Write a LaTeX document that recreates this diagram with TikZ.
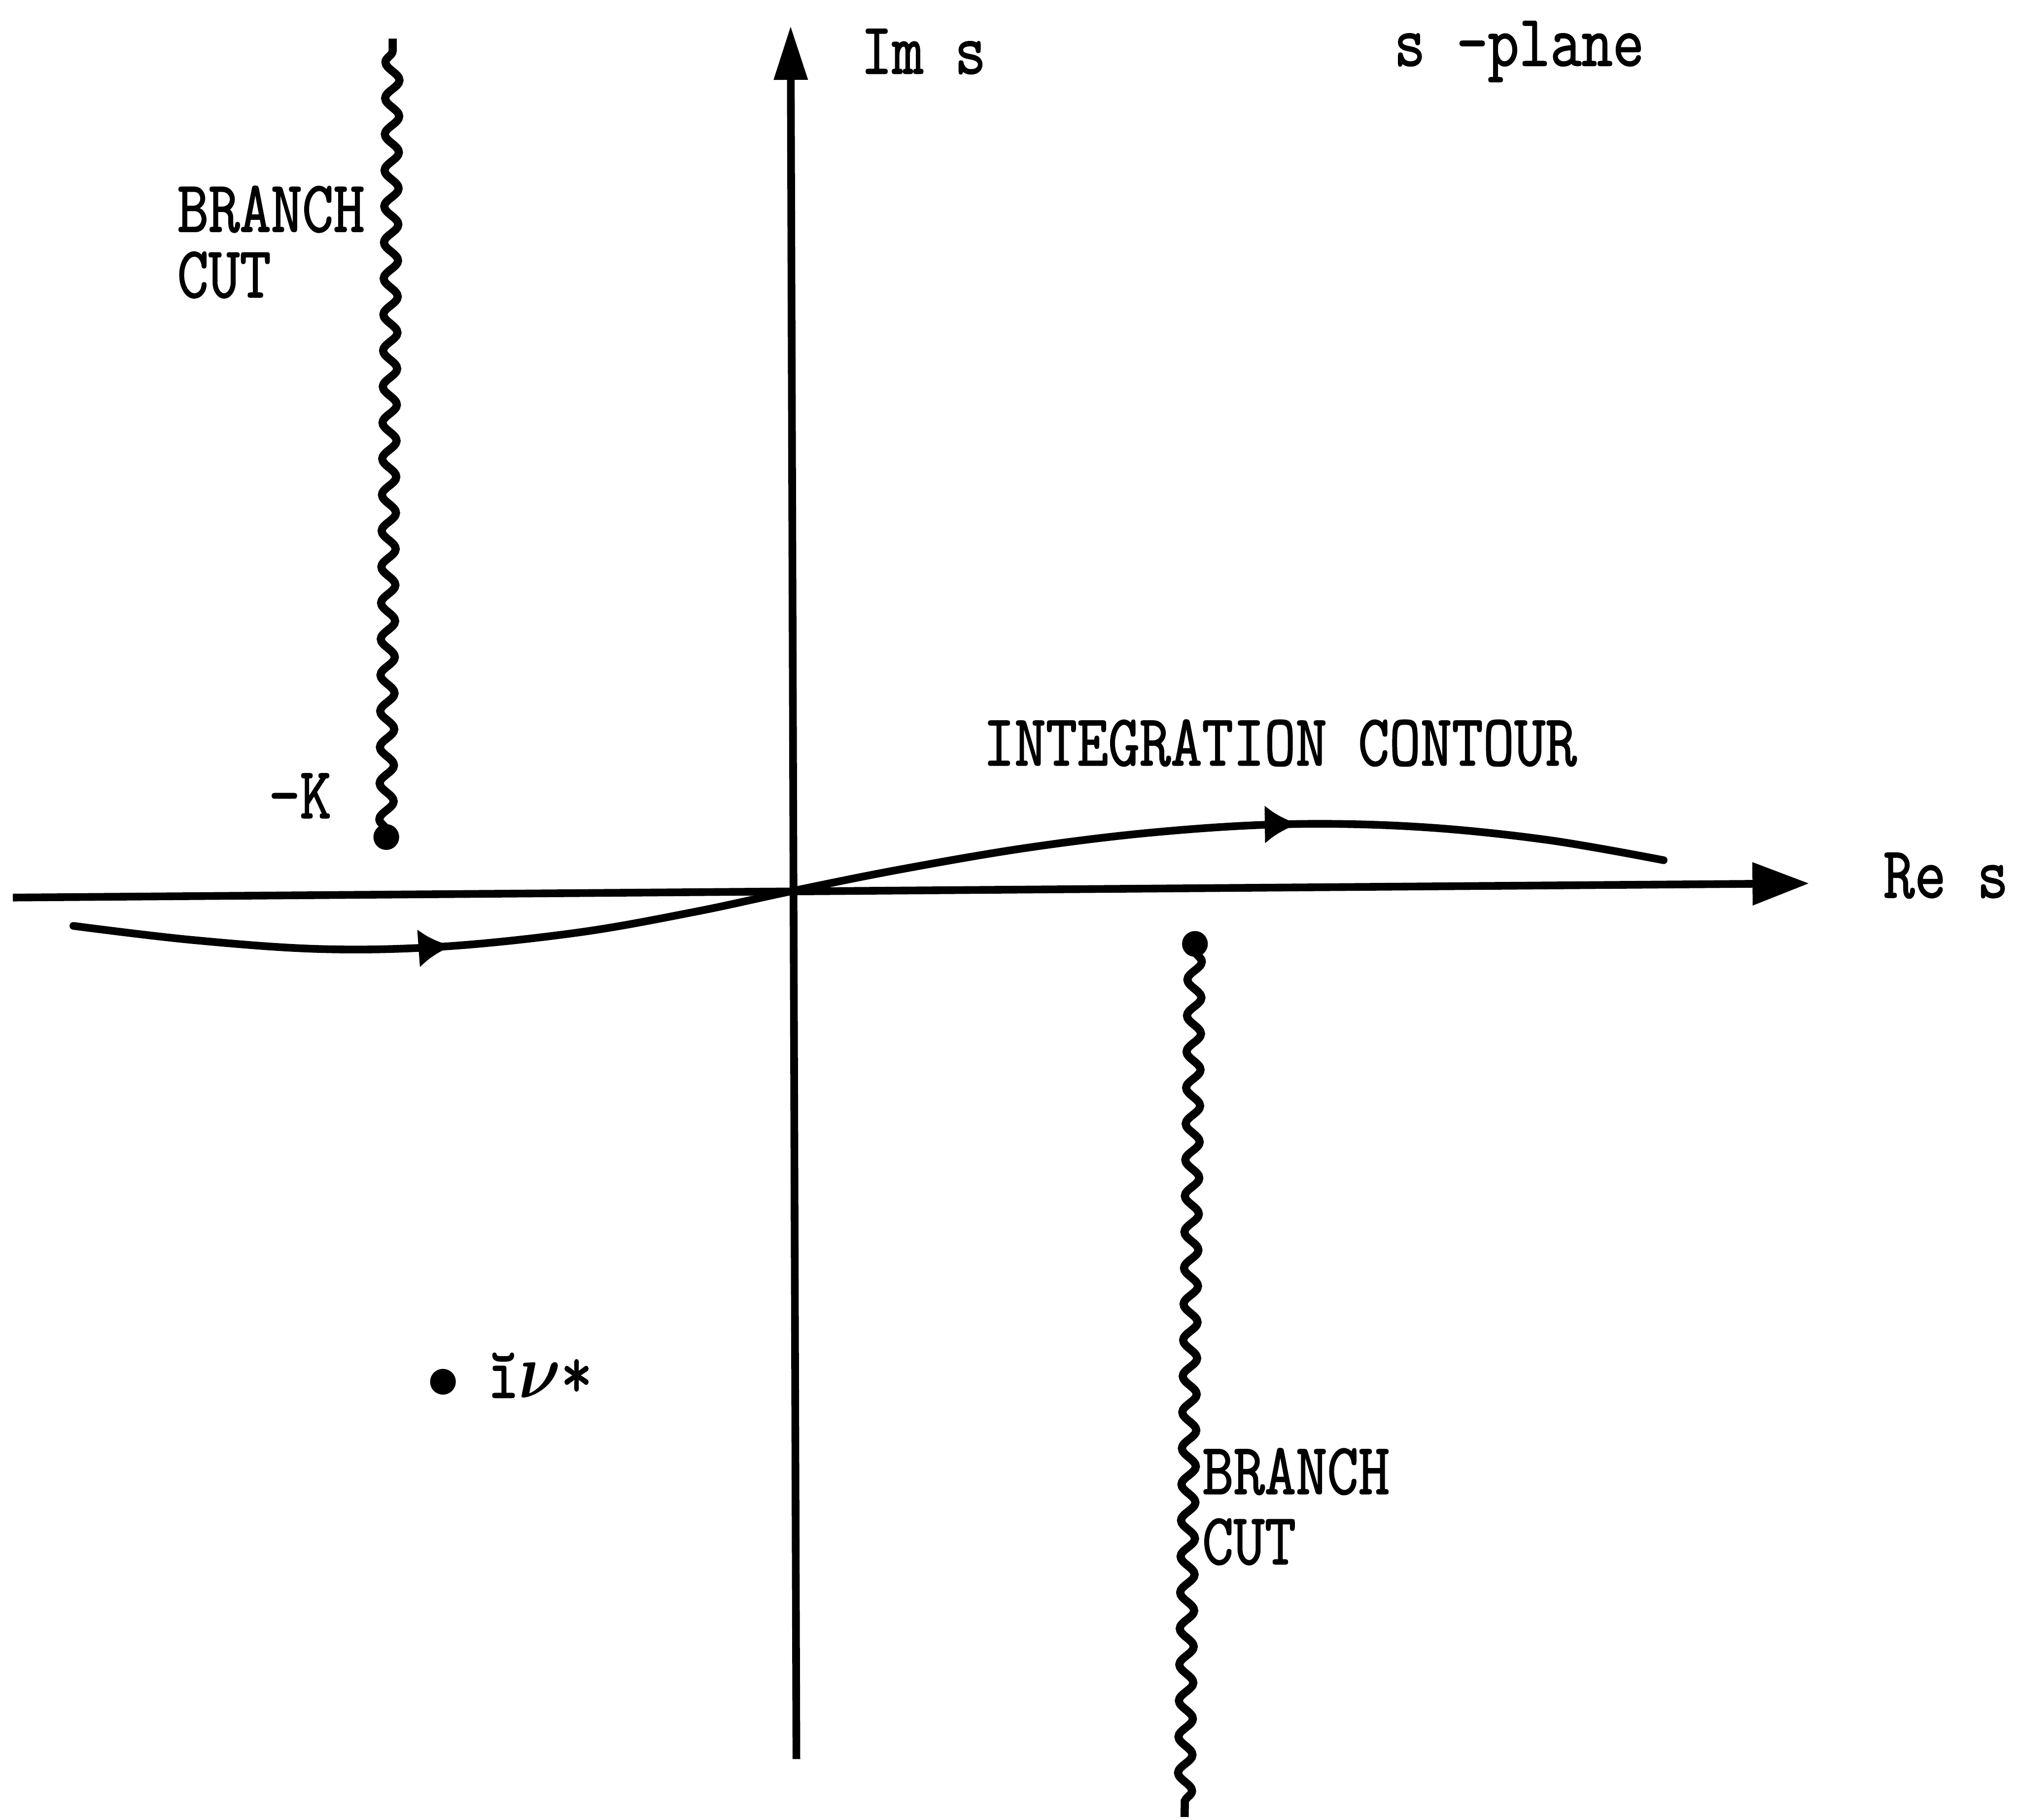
\documentclass[tikz,border=0pt]{standalone}
\usepackage{amsmath}
\usepackage{fontspec}
\newfontfamily\typefont{Latin Modern Mono}[FakeBold=1.6]
\usetikzlibrary{arrows.meta,decorations.pathmorphing,decorations.markings}
\newcommand{\tall}[1]{\scalebox{1}[1.2]{#1}}
\tikzset{
  typed/.style={
    font=\fontsize{13.4}{14.5}\selectfont\typefont,
    inner sep=0pt,
    align=left
  },
  reaxis/.style={line width=1.7pt, -{Triangle[length=4.4mm, width=3.2mm]}},
  imaxis/.style={line width=1.7pt, -{Triangle[length=4.2mm, width=2.5mm]}},
  cutline/.style={
    line width=1.8pt,
    decorate,
    decoration={snake, segment length=2.8mm, amplitude=0.55mm, pre length=0.5mm, post length=0.5mm}
  },
  contourline/.style={
    line width=1.7pt, line cap=round,
    postaction={decorate},
    decoration={markings,
      mark=at position 2.95cm with {\arrow{Latex[length=2.6mm, width=3mm]}},
      mark=at position 9.6cm with {\arrow{Latex[length=2.6mm, width=3mm]}}}
  },
  polept/.style={circle, fill, inner sep=0pt, minimum size=2mm}
}

\begin{document}
\begin{tikzpicture}
\useasboundingbox (0,0) rectangle (15.68,14.13);

% axes
\coordinate (reL) at (0.10,7.16);
\coordinate (reR) at (14.05,7.27);
\coordinate (imB) at (6.185,0.47);
\coordinate (imT) at (6.14,13.93);
\draw[reaxis] (reL) -- (reR);
\draw[imaxis] (imB) -- (imT);

\node[typed, anchor=west] (imlabel) at (6.68,13.73) {\tall{Im s}};
\node[typed, anchor=west] (plane) at (10.82,13.73) {\tall{s -plane}};
\node[typed, anchor=west] (relabel) at (14.62,7.33) {\tall{Re s}};

% branch points and cuts
\node[polept] (kpt) at (3.00,7.63) {};
\coordinate (kcut) at (3.05,13.83);
\draw[cutline] (kpt.center) -- (kcut);
\node[typed] (klabel) at (2.33,7.95) {\tall{-K}};
\node[typed, anchor=west] (cutA) at (1.37,12.25) {\tall{BRANCH}\\\tall{CUT}};

\node[polept] (bpt) at (9.28,6.80) {};
\coordinate (bcut) at (9.20,0.02);
\draw[cutline] (bpt.center) -- (bcut);
\node[typed, anchor=west, font=\fontsize{13.4}{15.5}\selectfont\typefont] (cutB) at (9.33,2.43) {\tall{BRANCH}\\\tall{CUT}};

% pole
\node[polept] (pole) at (3.44,3.40) {};
\node[typed, anchor=west] (polelabel) at (3.78,3.45) {\tall{ĭ$\boldsymbol{\nu}$*}};

% contour
\draw[contourline] plot[smooth, tension=0.6] coordinates {
  (0.57,6.94) (1.50,6.83) (2.50,6.76) (3.45,6.78) (4.50,6.89) (5.40,7.05)
  (6.15,7.21) (7.00,7.38) (8.00,7.55) (9.00,7.67) (10.00,7.73) (11.00,7.71)
  (12.00,7.61) (12.92,7.45)};
\node[typed, anchor=west] (intlabel) at (7.63,8.36) {\tall{INTEGRATION CONTOUR}};
\end{tikzpicture}
\end{document}
